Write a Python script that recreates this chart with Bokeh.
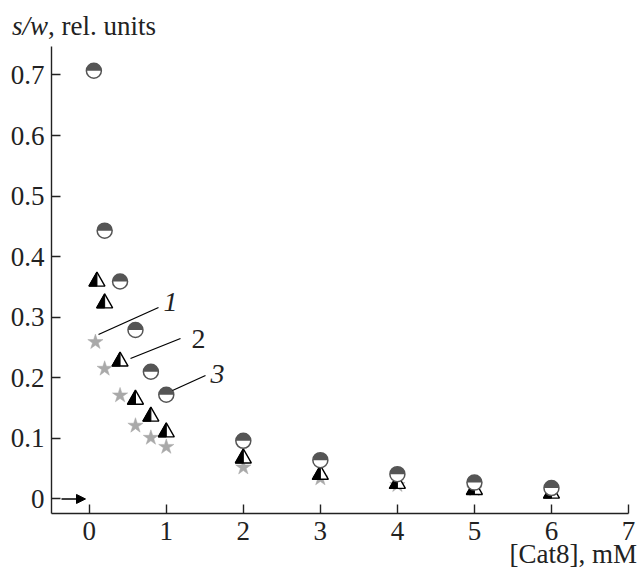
import numpy as np
from bokeh.plotting import figure
from bokeh.models import Range1d, FixedTicker, Label, Arrow, NormalHead, ColumnDataSource, Div
from bokeh.layouts import column
from bokeh.embed import file_html
from bokeh.resources import INLINE

# ---- data ----
conc_stars = [0.08, 0.2, 0.4, 0.6, 0.8, 1.0, 2, 3, 4, 5, 6]
s_w_1 = [0.259, 0.215, 0.171, 0.121, 0.101, 0.086, 0.052, 0.034, 0.023, 0.016, 0.012]

conc_tri = [0.1, 0.2, 0.4, 0.6, 0.8, 1.0, 2, 3, 4, 5, 6]
s_w_2 = [0.363, 0.327, 0.231, 0.168, 0.140, 0.114, 0.071, 0.044, 0.029, 0.019, 0.013]

conc_circ = [0.06, 0.2, 0.4, 0.6, 0.8, 1.0, 2, 3, 4, 5, 6]
s_w_3 = [0.707, 0.443, 0.359, 0.279, 0.210, 0.172, 0.096, 0.064, 0.041, 0.027, 0.018]

x_ticks = [0, 1, 2, 3, 4, 5, 6, 7]
y_ticks = [0, 0.1, 0.2, 0.3, 0.4, 0.5, 0.6, 0.7]
y_tick_labels = {0: "0", 0.1: "0.1", 0.2: "0.2", 0.3: "0.3", 0.4: "0.4",
                 0.5: "0.5", 0.6: "0.6", 0.7: "0.7"}

# ---- geometry ----
W = 638
TOP_H = 46          # strip above the plot with the y title
BOT_H = 21          # strip below the plot with the x title
FL, FW, FH = 51, 577, 467
FIG_H = 570 - TOP_H - BOT_H
X0, X1 = -0.49, 7.0
Y0, Y1 = -0.024, 0.747


def dx(px):
    return X0 + (px - FL) / FW * (X1 - X0)


def dy(py):  # py measured from the top of the page
    return Y0 + (TOP_H + FH - py) / FH * (Y1 - Y0)


px_x = FW / (X1 - X0)
px_y = FH / (Y1 - Y0)

SERIF = "Liberation Serif"
FS = "27px"

p = figure(width=W, height=FIG_H, output_backend="svg", toolbar_location=None,
           x_range=Range1d(X0, X1), y_range=Range1d(Y0, Y1),
           min_border_left=FL, min_border_right=W - FL - FW,
           min_border_top=0, min_border_bottom=FIG_H - FH)
p.outline_line_color = None
p.grid.visible = False
p.background_fill_color = "white"
p.border_fill_color = "white"

for ax in (p.xaxis[0], p.yaxis[0]):
    ax.axis_line_color = "#222222"
    ax.axis_line_width = 1.4
    ax.major_tick_line_color = "#222222"
    ax.major_tick_line_width = 1.4
    ax.major_tick_in = 9
    ax.major_tick_out = 0
    ax.minor_tick_line_color = None
    ax.major_label_text_font = SERIF
    ax.major_label_text_font_size = FS
    ax.major_label_text_color = "#222222"

p.xaxis[0].ticker = FixedTicker(ticks=x_ticks)
p.yaxis[0].ticker = FixedTicker(ticks=y_ticks)
p.yaxis[0].major_label_overrides = y_tick_labels
p.xaxis[0].major_label_standoff = 8
p.yaxis[0].major_label_standoff = 7

# ---- series 1: grey stars ----
p.scatter(conc_stars, s_w_1, marker="star", size=16, fill_color="#a9a9a9",
          line_color="#a9a9a9", line_width=0.5)

# ---- series 2: triangles, left half black ----
tw, th = 8.0 / px_x, 7.0 / px_y
tri_xs = [[x, x - tw, x + tw] for x in conc_tri]
tri_ys = [[y + th, y - th, y - th] for y in s_w_2]
half_xs = [[x, x - tw, x] for x in conc_tri]
half_ys = [[y + th, y - th, y - th] for y in s_w_2]
p.patches(tri_xs, tri_ys, fill_color="white", line_color="black", line_width=1.4)
p.patches(half_xs, half_ys, fill_color="black", line_color="black", line_width=1.0)

# ---- series 3: circles, upper half dark grey ----
csrc = ColumnDataSource(dict(x=conc_circ, y=s_w_3))
p.scatter("x", "y", source=csrc, marker="circle", size=15, fill_color="white",
          line_color="#555555", line_width=1.5)
p.wedge("x", "y", source=csrc, radius=7.5, radius_units="screen",
        start_angle=0, end_angle=np.pi, direction="anticlock",
        fill_color="#555555", line_color=None)

# ---- leader lines and curve numbers ----
p.segment(x0=[dx(98), dx(130), dx(172)], y0=[dy(334), dy(358), dy(390)],
          x1=[dx(158), dx(180), dx(205)], y1=[dy(307), dy(338), dy(375)],
          line_color="black", line_width=1.3)

for txt, cx, cy, style in [("1", 170, 301, "italic"), ("2", 198, 338, "normal"),
                           ("3", 217, 373, "italic")]:
    p.add_layout(Label(x=dx(cx), y=dy(cy), text=txt, text_font=SERIF,
                       text_font_size="28px", text_font_style=style,
                       text_align="center", text_baseline="middle",
                       text_color="#222222"))

# ---- arrow at zero ----
p.add_layout(Arrow(end=NormalHead(size=9, fill_color="black", line_color="black"),
                   x_start=dx(61), y_start=0, x_end=dx(85), y_end=0,
                   line_color="black", line_width=1.4))

# ---- axis titles (HTML strips above and below the plot) ----
font_css = "font-family:'Liberation Serif',serif; font-size:27px; color:#222222; line-height:27px;"
top = Div(text=f"<div style=\"{font_css} position:relative; left:12px; top:13px; white-space:nowrap;\">"
               "<i>s/w</i>, rel. units</div>",
          width=W, height=TOP_H, margin=(0, 0, 0, 0))
bottom = Div(text=f"<div style=\"{font_css} position:relative; top:-8px; width:{W - 1}px; "
                  "text-align:right; white-space:nowrap;\">[Cat8], mM</div>",
             width=W, height=BOT_H, margin=(0, 0, 0, 0))

layout = column(top, p, bottom, spacing=0)
open("out.html", "w").write(file_html(layout, INLINE))
